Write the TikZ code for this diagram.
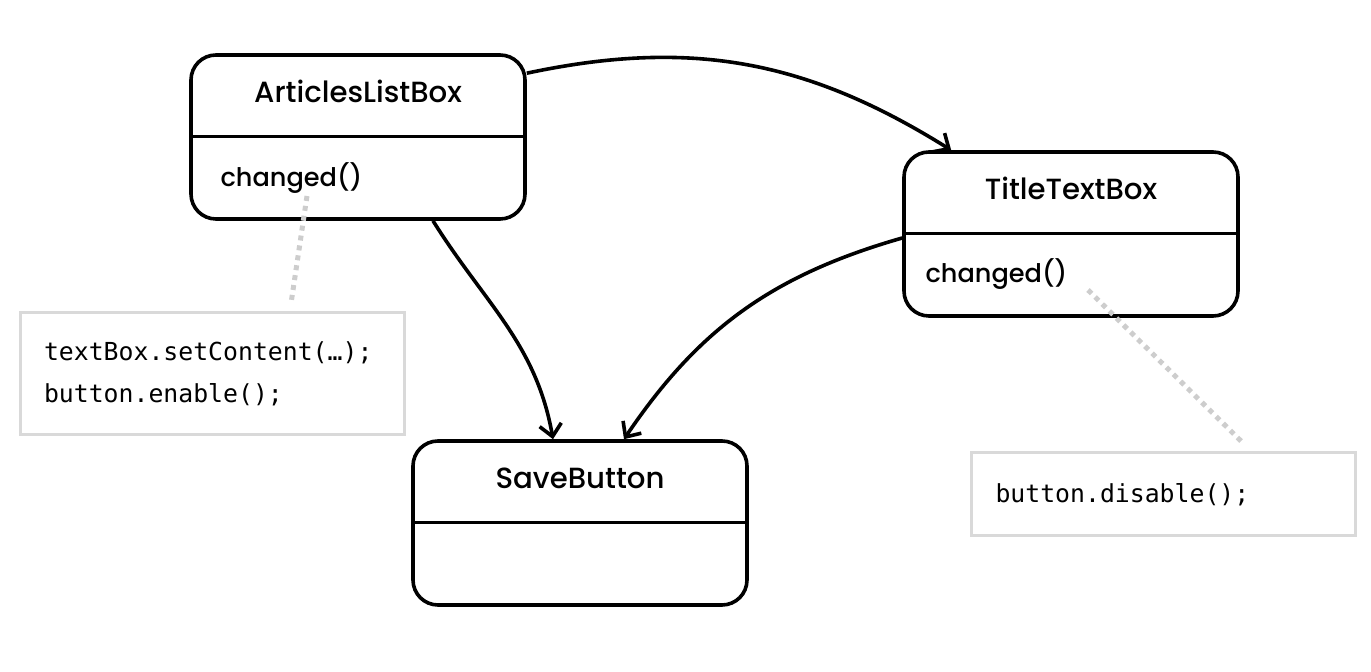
\documentclass[tikz,border=0pt]{standalone}
\usepackage{fontspec}
\setmainfont{Poppins}
\newfontfamily\titlefont{Poppins}[UprightFont={* Medium}]
\setmonofont{DejaVu Sans Mono}
\usetikzlibrary{arrows.meta}
\definecolor{note_gray}{RGB}{217, 217, 217}
\definecolor{link_gray}{RGB}{205, 205, 205}

\tikzset{
  classbox/.style={draw, line width=1.8pt, rounded corners=12.5pt,
    minimum width=167pt, minimum height=82pt, inner sep=0pt},
  classname/.style={font=\titlefont\fontsize{14.6}{16}\selectfont, inner sep=0pt},
  method/.style={font=\titlefont\fontsize{12.8}{15}\selectfont, anchor=west, inner sep=0pt},
  note/.style={draw=note_gray, line width=1.5pt, inner xsep=12pt, inner ysep=0pt,
    align=left, font=\ttfamily\fontsize{12.4}{21}\selectfont},
  flow/.style={-{Straight Barb[length=6pt, width=11pt]}, line width=1.8pt},
  link/.style={draw=link_gray, line width=2.5pt, dash pattern=on 2.5pt off 2.5pt},
}

\begin{document}
\begin{tikzpicture}[x=0.5pt, y=0.5pt]
\useasboundingbox (0, 0) rectangle (1371, -672);

% classes
\node[classbox] (alb) at (358, -137) {};
\draw[line width=1.5pt] (alb.west) -- (alb.east);
\node[classname] (alb-name) at ([yshift=-19pt]alb.north) {ArticlesListBox};
\node[method] (alb-changed) at ([xshift=15.5pt, yshift=-20.5pt]alb.west) {changed()};

\node[classbox] (ttb) at (1071, -234) {};
\draw[line width=1.5pt] (ttb.west) -- (ttb.east);
\node[classname] (ttb-name) at ([yshift=-19pt]ttb.north) {TitleTextBox};
\node[method] (ttb-changed) at ([xshift=11.5pt, yshift=-20pt]ttb.west) {changed()};

\node[classbox] (sb) at (580, -523) {};
\draw[line width=1.5pt] (sb.west) -- (sb.east);
\node[classname] (sb-name) at ([yshift=-19.5pt]sb.north) {SaveButton};

% notes
\node[note, text width=168pt, minimum height=61pt] (note1) at (212, -374)
  {textBox.setContent(…);\\button.enable();};
\node[note, text width=168pt, minimum height=41.5pt] (note2) at (1163.5, -494.5)
  {button.disable();};

% calls
\draw[flow] ([yshift=-10pt]alb.north east) to[out=12, in=148]
  ([xshift=24.5pt]ttb.north west);
\draw[flow] ([xshift=37.5pt]alb.south) to[out=-58, in=100]
  ([xshift=-13.5pt]sb.north);
\draw[flow] ([yshift=-2pt]ttb.west) to[out=196, in=56]
  ([xshift=22pt]sb.north);

% note links
\coordinate (alb-link) at (307, -196);
\coordinate (ttb-link) at (1088, -290);
\draw[link] (alb-link) -- ([xshift=39.5pt, yshift=4pt]note1.north);
\draw[link] (ttb-link) -- ([xshift=40pt, yshift=4pt]note2.north);
\end{tikzpicture}
\end{document}
